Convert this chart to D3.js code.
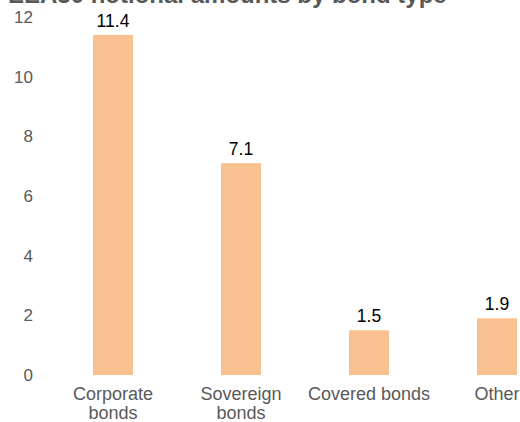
<!DOCTYPE html>
<html>
<head>
<meta charset="utf-8">
<script src="https://cdn.jsdelivr.net/npm/d3@7"></script>
<style>
  body { margin: 0; background: #fff; }
  svg { display: block; font-family: "Liberation Sans", Arial, sans-serif; }
</style>
</head>
<body>
<svg id="chart" width="520" height="422"></svg>
<script>
// data
const categories = ["Corporate bonds", "Sovereign bonds", "Covered bonds", "Other"];
const categoryLines = [["Corporate", "bonds"], ["Sovereign", "bonds"], ["Covered bonds"], ["Other"]];
const values = [11.4, 7.1, 1.5, 1.9];
const yTicks = [0, 2, 4, 6, 8, 10, 12];
const title = "EEA30 notional amounts by bond type";

const svg = d3.select("#chart");

const x = d3.scaleBand()
  .domain(categories)
  .range([49, 561])
  .paddingInner(0.6875)
  .paddingOuter(0.34375);

const y = d3.scaleLinear()
  .domain([0, 12])
  .range([375, 17]);

// title (clipped at the top, like the original)
svg.append("text")
  .attr("x", 8)
  .attr("y", 3)
  .attr("font-size", 24)
  .attr("font-weight", "bold")
  .attr("fill", "#595959")
  .text(title);

// y axis labels
const yAxis = svg.append("g")
  .attr("transform", "translate(33,0)")
  .call(d3.axisLeft(y).tickValues(yTicks).tickSize(0).tickPadding(0));
yAxis.select(".domain").remove();
yAxis.selectAll("text")
  .attr("font-size", 17)
  .attr("font-family", "Liberation Sans, Arial, sans-serif")
  .attr("fill", "#595959");

// bars
svg.selectAll(".bar")
  .data(values)
  .enter()
  .append("rect")
  .attr("class", "bar")
  .attr("x", (d, i) => x(categories[i]))
  .attr("y", d => y(d))
  .attr("width", x.bandwidth())
  .attr("height", d => y(0) - y(d))
  .attr("fill", "#fac190");

// value labels
svg.selectAll(".val")
  .data(values)
  .enter()
  .append("text")
  .attr("class", "val")
  .attr("x", (d, i) => x(categories[i]) + x.bandwidth() / 2)
  .attr("y", d => y(d) - 8)
  .attr("text-anchor", "middle")
  .attr("font-size", 17.5)
  .attr("fill", "#000")
  .text(d => d.toFixed(1));

// category labels
const cat = svg.selectAll(".cat")
  .data(categories)
  .enter()
  .append("text")
  .attr("class", "cat")
  .attr("x", d => x(d) + x.bandwidth() / 2)
  .attr("y", 400)
  .attr("text-anchor", "middle")
  .attr("font-size", 18)
  .attr("fill", "#595959");

cat.selectAll("tspan")
  .data((d, i) => categoryLines[i])
  .enter()
  .append("tspan")
  .attr("x", function () { return d3.select(this.parentNode).attr("x"); })
  .attr("dy", (d, i) => i === 0 ? 0 : 19)
  .text(d => d);
</script>
</body>
</html>
